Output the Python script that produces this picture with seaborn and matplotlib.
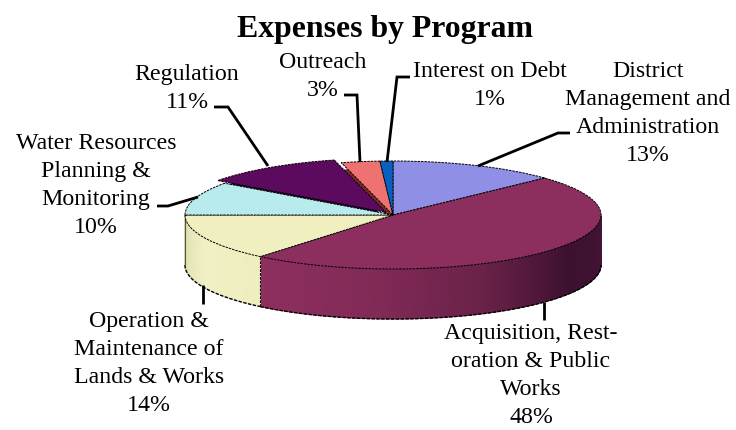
import numpy as np
import matplotlib
matplotlib.use("Agg")
import matplotlib.pyplot as plt
from matplotlib.colors import LinearSegmentedColormap
import seaborn as sns

# --- DATA ---
programs = ["District\nManagement and\nAdministration",
            "Acquisition, Rest-\noration & Public\nWorks",
            "Operation &\nMaintenance of\nLands & Works",
            "Water Resources\nPlanning &\nMonitoring",
            "Regulation",
            "Outreach",
            "Interest on Debt"]
shares = [13, 48, 14, 10, 11, 3, 1]
top_colors = ["#8f8fe6", "#8c2e5e", "#efefbf", "#b8ecec", "#5c0a5e", "#ee7272", "#0a60c0"]
shade_colors = ["none", "none", "none", "none", "#2e0530", "#7a2a2a", "none"]
explode = [0, 0, 0, 0, 0.06, 0, 0]

# label centre (px) and first line y (px)
label_pos = [(648, 69), (531, 331), (149, 319), (96, 141), (187, 72), (323, 60), (490, 69)]
leaders = [[(570, 133), (558, 133), (478, 166)],
           [(544, 302), (544, 320)],
           [(203, 285), (203, 304)],
           [(157, 206), (168, 206), (198, 197)],
           [(214, 107), (228, 107), (268, 166)],
           [(344, 95), (357, 95), (360, 162)],
           [(410, 77), (397, 77), (387, 162)]]

# --- PIE GEOMETRY (px) ---
CX, CY = 393, 215
RX, RY = 208, 54
DEPTH = 50
WIDTH, HEIGHT = 736, 430

sns.set_theme(style="white")
plt.rcParams["font.family"] = ["Liberation Serif", "DejaVu Serif"]

fig = plt.figure(figsize=(WIDTH / 100, HEIGHT / 100), dpi=100)
ax = fig.add_axes([0, 0, 1, 1])

wedge_style = dict(edgecolor="black", linewidth=0.7, linestyle=(0, (2.5, 1)))
depth = DEPTH / RY

# small dark wall behind the pulled out slice
ax.pie(shares, colors=shade_colors, explode=explode, startangle=90, counterclock=False,
       center=(0, -0.13), wedgeprops=dict(linewidth=0))
wedges, _ = ax.pie(shares, colors=sns.color_palette(top_colors), explode=explode,
                   startangle=90, counterclock=False, wedgeprops=wedge_style)

# front wall, only the lower half of the ellipse can be seen
wall_maps = {
    1: LinearSegmentedColormap.from_list("wall1", ["#8e2f5f", "#832b58", "#6a2249", "#3c1030", "#451435"]),
    2: LinearSegmentedColormap.from_list("wall2", ["#dcdcae", "#f0f0c4", "#eeeec0"]),
}
for i, cmap in wall_maps.items():
    t1 = wedges[i].theta1 % 360
    t2 = min(t1 + (wedges[i].theta2 - wedges[i].theta1), 360)
    t1 = max(t1, 180)
    theta = np.radians(np.linspace(t1, t2, 80))
    x = np.cos(theta)
    y = np.sin(theta)
    X = np.vstack([x, x])
    Y = np.vstack([y, y - depth])
    C = np.vstack([np.linspace(0, 1, 80)] * 2)
    ax.pcolormesh(X, Y, C, shading="gouraud", cmap=cmap, zorder=0.5)
    ax.plot(x, y - depth, color="black", lw=1.0, ls=(0, (2.5, 1)), zorder=0.6)

left = np.radians(180)
ax.plot([np.cos(left)] * 2, [0, -depth], color="#555544", lw=0.8, zorder=0.6)
seam = np.radians(wedges[1].theta1 % 360)
ax.plot([np.cos(seam)] * 2, [np.sin(seam), np.sin(seam) - depth], color="black", lw=0.8,
        ls=(0, (2.5, 1)), zorder=0.6)

ax.set_aspect("auto")
ax.set_xlim(-CX / RX, (WIDTH - CX) / RX)
ax.set_ylim((CY - HEIGHT) / RY, CY / RY)
ax.axis("off")

# overlay in pixels for the text and leader lines
ov = fig.add_axes([0, 0, 1, 1], facecolor="none")
ov.set_xlim(0, WIDTH)
ov.set_ylim(HEIGHT, 0)
ov.axis("off")

ov.text(385, 29, "Expenses by Program", ha="center", va="center", fontsize=22.9, fontweight="bold",
        color="black")

for name, share, pos, line in zip(programs, shares, label_pos, leaders):
    ov.text(pos[0], pos[1] - 8, f"{name}\n{share}%", ha="center", va="top", fontsize=17.2,
            linespacing=1.44, color="black")
    ov.plot([p[0] for p in line], [p[1] for p in line], color="black", lw=2,
            solid_joinstyle="miter", solid_capstyle="butt")

fig.savefig("out.png", dpi=100, facecolor="white")
